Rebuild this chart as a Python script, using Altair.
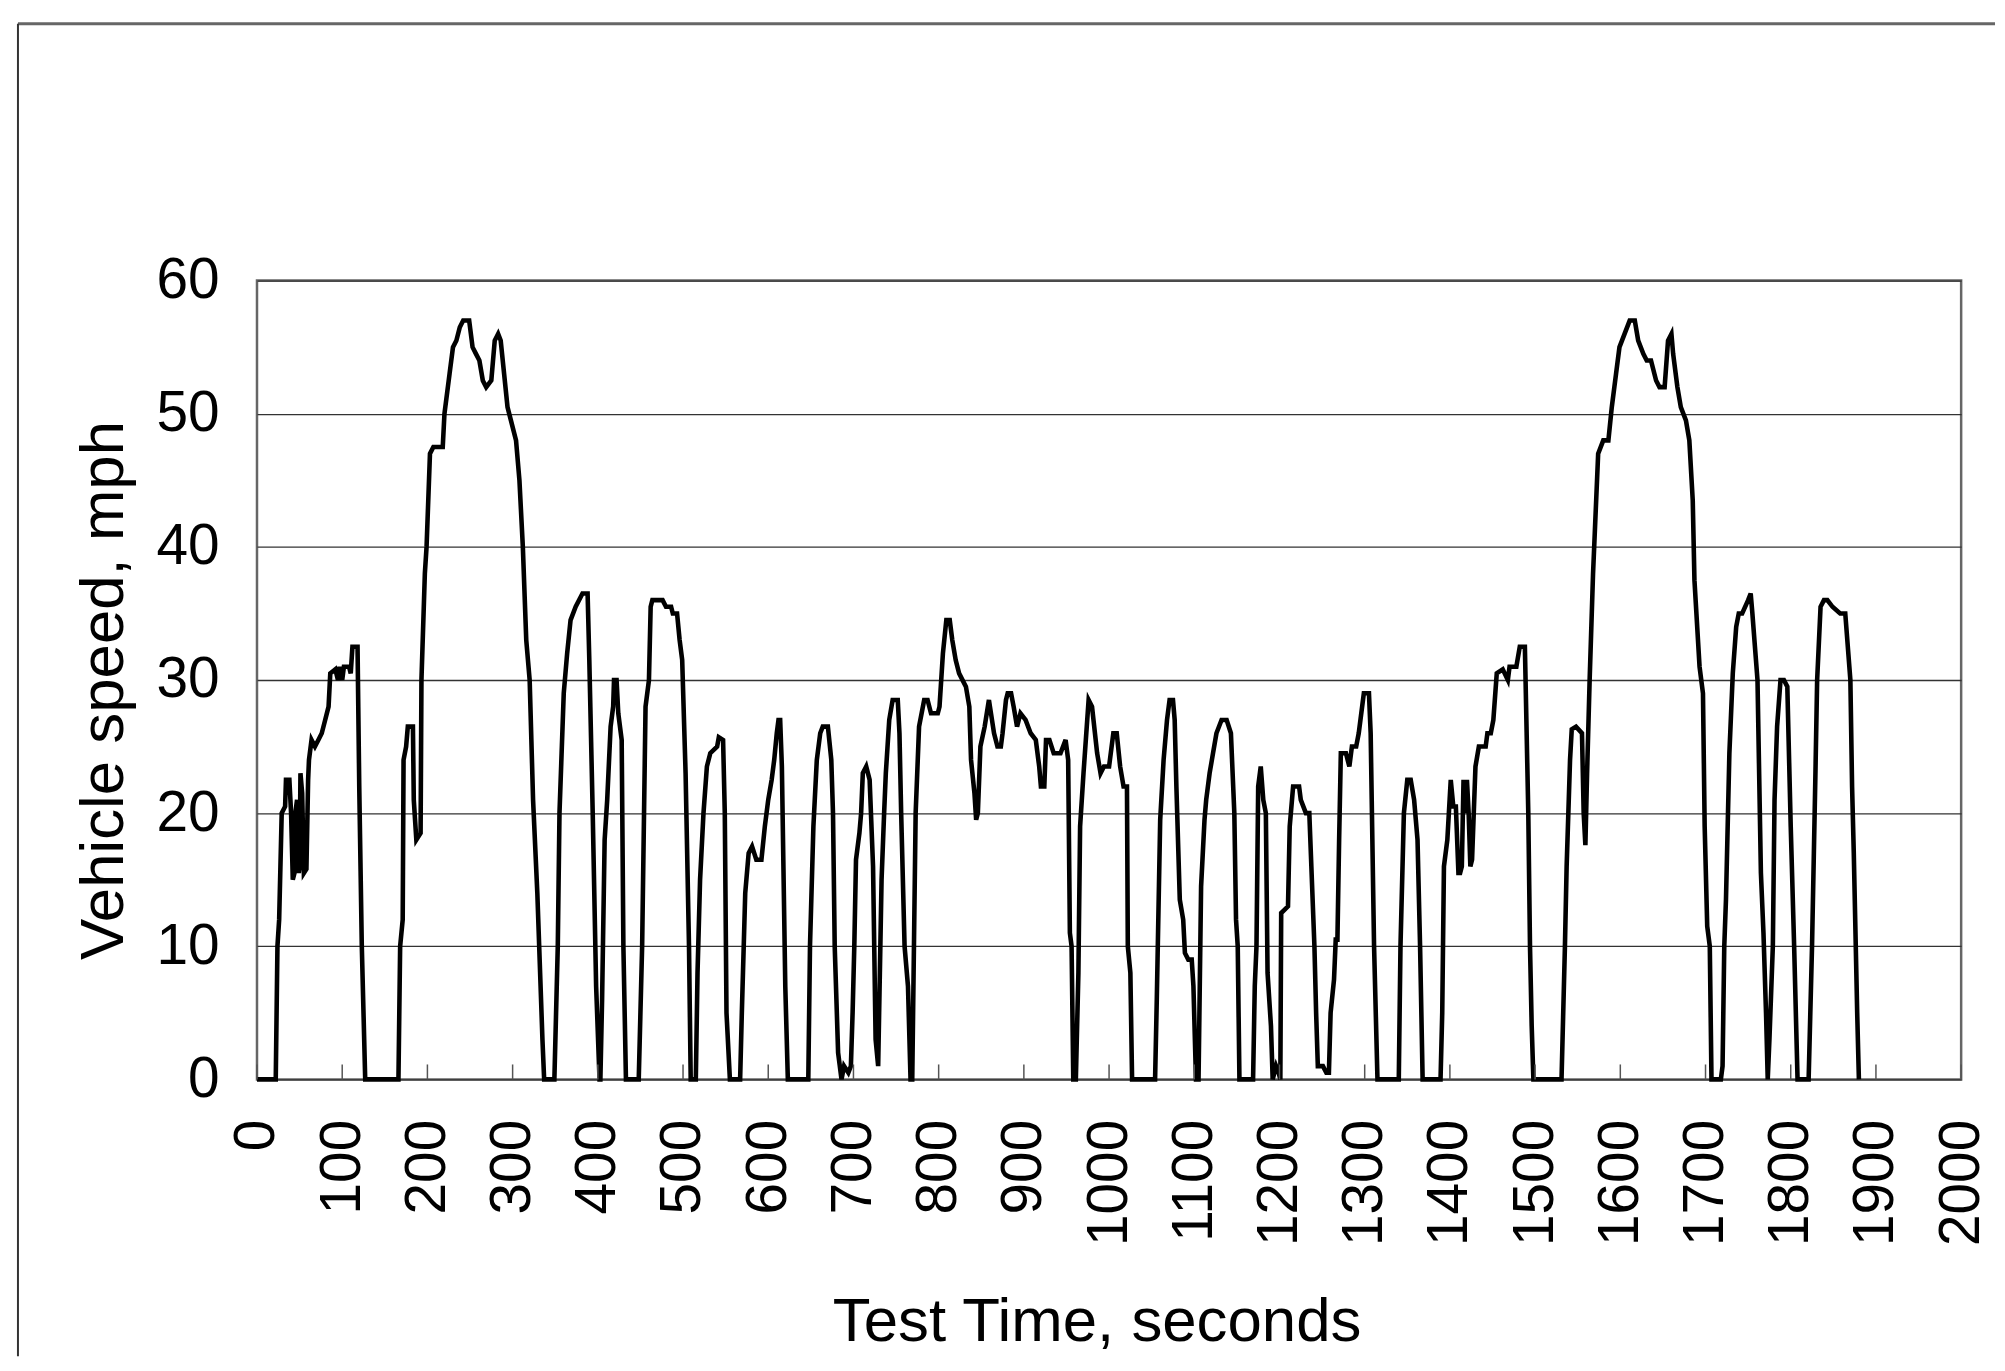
import altair as alt
import pandas as pd

# Breakpoints of the speed trace (seconds, mph)
time_s = [
    0, 22, 24, 26, 29, 33, 34, 38, 40, 42, 44, 45, 47, 49, 50, 51, 53, 55, 58, 60,
    61, 64, 68, 72, 76, 80, 84, 86, 92, 95, 97, 100, 102, 108, 110, 112, 118, 120, 123, 127,
    166, 168, 171, 172, 175, 177, 183, 184, 187, 192, 193, 197, 199, 203, 207, 218, 220, 226, 230, 234,
    238, 242, 249, 253, 257, 261, 265, 269, 275, 279, 283, 286, 290, 294, 298, 304, 308, 312, 316, 320,
    324, 329, 335, 337,
    349, 353, 355, 360, 364, 368, 374, 382, 388, 390, 394, 398, 402,
    403, 405, 408, 411, 415, 418, 419, 422, 424, 428, 430, 433,
    448, 452, 456, 460, 462, 464, 476, 480, 486, 488, 493, 496, 499, 503, 507, 509,
    515, 517, 520, 524, 528, 532, 540, 542, 547, 549, 551, 555,
    567, 569, 573, 577, 581, 586, 592, 596, 600, 604, 607, 610, 612, 614, 616, 620, 623,
    647, 649, 653, 657, 661, 664, 670, 674, 676, 678, 682, 686, 689, 694, 697,
    699, 701, 703, 707, 709, 711, 715, 719, 723, 726, 729, 731, 733, 736, 738, 742, 746, 752, 754, 756,
    760, 764, 767,
    769, 771, 773, 777, 783, 787, 791, 799, 801, 805, 809, 813, 816, 820, 824, 832, 836, 838, 842, 844,
    846, 849, 854, 859, 865, 869, 873, 875, 879, 881, 885, 888, 892, 896, 902, 908, 914, 918, 920, 924,
    926, 930, 935, 943, 949, 952, 954, 956, 958,
    961, 964, 966, 970, 976, 980, 986, 990, 994, 1000, 1005, 1009, 1013, 1017, 1021, 1022, 1025, 1027,
    1054, 1056, 1060, 1064, 1068, 1071, 1075, 1077, 1079, 1083, 1087, 1089, 1093, 1097, 1099, 1102,
    1105, 1108, 1112, 1114, 1118, 1122, 1126, 1132, 1138, 1143, 1147, 1149, 1151, 1153,
    1169, 1171, 1173, 1175, 1178, 1181, 1184, 1186, 1190, 1192, 1196, 1199, 1201,
    1202, 1210, 1212, 1216, 1223, 1225, 1231, 1235, 1241, 1243, 1245, 1251, 1255, 1258, 1260, 1264,
    1266, 1268, 1270, 1272, 1278, 1282, 1285, 1290, 1293, 1299, 1305, 1307, 1311, 1315,
    1340, 1342, 1346, 1350, 1354, 1358, 1362, 1365, 1368,
    1389, 1391, 1393, 1397, 1401, 1404, 1407, 1410, 1412, 1414, 1416, 1418, 1420, 1422, 1424, 1426,
    1430, 1434, 1442, 1444, 1448, 1451, 1455, 1462, 1468, 1470, 1478, 1482, 1488, 1492, 1494, 1496, 1498,
    1531, 1535, 1537, 1541, 1543, 1548, 1555, 1557, 1559, 1561, 1564, 1568, 1570, 1574, 1580, 1586,
    1590, 1595, 1599, 1605, 1611, 1617, 1621, 1627, 1631, 1636, 1642, 1646, 1652, 1656, 1660, 1662,
    1667, 1671, 1677, 1681, 1685, 1687, 1693, 1697, 1699, 1702, 1705, 1707,
    1718, 1720, 1722, 1724, 1728, 1732, 1736, 1739, 1743, 1750, 1753, 1755, 1761, 1765, 1768, 1771,
    1773, 1775, 1779, 1781, 1784, 1788, 1792, 1796, 1800, 1804, 1806, 1808,
    1821, 1825, 1829, 1831, 1835, 1839, 1843, 1849, 1858, 1864, 1870, 1872, 1874, 1878, 1880,
]

speed_mph = [
    0, 0, 10, 12, 20, 20.5, 22.5, 22.5, 20, 15, 15.5, 20, 21, 15.5, 16, 23, 21.5, 15.5, 15.8, 22.5,
    24, 25.5, 25, 25.5, 26, 27, 28, 30.5, 30.8, 30, 31, 30, 31, 31, 30.5, 32.5, 32.5, 22, 10, 0,
    0, 10, 12, 24, 25, 26.5, 26.5, 21, 18, 18.5, 30, 38, 40, 47, 47.5, 47.5, 50, 53, 55, 55.5,
    56.5, 57, 57, 55, 54.5, 54, 52.5, 52, 52.5, 55.5, 56, 55.5, 53, 50.5, 49.5, 48, 45, 40, 33, 30,
    21, 14, 3, 0,
    0, 10, 20, 29, 32, 34.5, 35.5, 36.5, 36.5, 31.5, 20, 7, 0,
    0, 6, 18, 21, 26.5, 28, 30, 30, 27.5, 25.5, 10, 0,
    0, 10, 28, 30, 35.5, 36, 36, 35.5, 35.5, 35, 35, 33, 31.5, 23, 10, 0,
    0, 8, 15, 20, 23.5, 24.5, 25, 25.7, 25.5, 20, 5, 0,
    0, 5, 14, 17, 17.5, 16.5, 16.5, 19, 21, 22.5, 24, 26, 27, 27, 23.5, 7, 0,
    0, 10, 19, 24, 26, 26.5, 26.5, 24, 20, 10, 2, 0, 1, 0.5, 1,
    5, 10, 16.5, 18.5, 20, 23, 23.5, 22.5, 16, 3, 1, 8, 15, 20, 23, 27, 28.5, 28.5, 26, 20,
    10, 7, 0,
    0, 10, 20, 26.5, 28.5, 28.5, 27.5, 27.5, 28, 32, 34.5, 34.5, 33, 31.5, 30.5, 29.5, 28, 24, 21.5, 19.5,
    20, 25, 26.5, 28.5, 26, 25, 25, 26, 28.5, 29, 29, 28, 26.5, 27.5, 27, 26, 25.5, 23.5, 22, 22,
    25.5, 25.5, 24.5, 24.5, 25.5, 24, 11, 10, 0,
    0, 8, 19, 23, 28.5, 28, 24.5, 23, 23.5, 23.5, 26, 26, 23.5, 22, 22, 10, 8, 0,
    0, 6, 19.5, 24, 27, 28.5, 28.5, 27, 22, 13.5, 12, 9.5, 9, 9, 7, 0,
    0, 14.5, 19.5, 21, 23, 24.5, 26, 27, 27, 26, 20, 12, 10, 0,
    0, 7, 10, 22, 23.5, 21, 20, 8, 4, 0, 1, 0.5, 0,
    12.5, 13, 19, 22, 22, 21, 20, 20, 10, 5, 1, 1, 0.5, 0.5, 5, 7.5,
    10.5, 10.5, 18, 24.5, 24.5, 23.5, 25, 25, 26, 29, 29, 26, 10, 0,
    0, 10, 20, 22.5, 22.5, 21, 18, 10, 0,
    0, 5, 16, 18, 22.5, 20.5, 20.5, 15.5, 15.5, 16, 22.5, 20, 22.5, 20, 16, 16.5,
    23.5, 25, 25, 26, 26, 27, 30.5, 30.8, 30, 31, 31, 32.5, 32.5, 20, 10, 4, 0,
    0, 10, 16, 24, 26.3, 26.5, 26, 20, 17.6, 23, 30, 38, 41, 47, 48, 48,
    50.5, 53, 55, 56, 57, 57, 55.5, 54.5, 54, 54, 52.5, 52, 52, 55.5, 56, 54.5,
    52, 50.5, 49.5, 48, 43.5, 37.5, 31, 29, 19, 11.5, 10, 0,
    0, 1, 10, 13.5, 24.5, 30.5, 34, 35, 35, 36, 36.5, 35, 30, 15.5, 11, 5,
    0, 3, 10, 21, 26.5, 30, 30, 29.5, 19, 10, 5, 0,
    0, 10, 23, 30, 35.5, 36, 36, 35.5, 35, 35, 30, 22, 17, 5, 0,
]

x_tick_values = [0, 100, 200, 300, 400, 500, 600, 700, 800, 900, 1000,
                 1100, 1200, 1300, 1400, 1500, 1600, 1700, 1800, 1900, 2000]
y_tick_values = [0, 10, 20, 30, 40, 50, 60]

df = pd.DataFrame({"t": time_s, "v": speed_mph})
ticks_df = pd.DataFrame({"t": x_tick_values})
one = pd.DataFrame({"a": [0]})

W, H = 1711, 802
FONT = "Liberation Sans"

line = alt.Chart(df).mark_line(color="black", strokeWidth=4.6, strokeJoin="miter").encode(
    x=alt.X(
        "t:Q",
        scale=alt.Scale(domain=[0, 2000], nice=False),
        axis=alt.Axis(
            values=x_tick_values, format="d", labelAngle=270, labelFontSize=57, labelPadding=40,
            ticks=False, domain=False, grid=False, labelFlush=False, labelOverlap=False,
            title="Test Time, seconds", titleFontSize=62, titleFontWeight="normal",
            titleX=843, titleY=262, titleBaseline="alphabetic", titleAlign="center",
        ),
    ),
    y=alt.Y(
        "v:Q",
        scale=alt.Scale(domain=[0, 60], nice=False),
        axis=alt.Axis(
            values=y_tick_values, format="d", grid=True, gridColor="#333333", gridWidth=1.3,
            ticks=False, domain=False, labelFontSize=57, labelPadding=38,
            labelFlush=False, labelOverlap=False,
            title="Vehicle speed, mph", titleFontSize=62, titleFontWeight="normal",
            titleAngle=270, titleX=-135, titleY=411, titleBaseline="alphabetic",
            titleAlign="center",
        ),
    ),
)

ticks = alt.Chart(ticks_df).mark_rule(color="#555555", strokeWidth=1.5).encode(
    x="t:Q", y=alt.value(H), y2=alt.value(H - 15)
)

frame_top = alt.Chart(one).mark_rule(color="#666666", strokeWidth=3).encode(
    x=alt.value(-240), x2=alt.value(1745), y=alt.value(-258)
)
frame_left = alt.Chart(one).mark_rule(color="#333333", strokeWidth=2).encode(
    x=alt.value(-240), y=alt.value(-258), y2=alt.value(1080)
)

chart = alt.layer(frame_top, frame_left, line, ticks).properties(
    width=W, height=H,
    autosize=alt.AutoSizeParams(type="none"),
    padding={"left": 250, "top": 271, "right": 36, "bottom": 277},
).configure_view(
    stroke="#666666", strokeWidth=2.5
).configure_axis(
    labelFont=FONT, titleFont=FONT, labelColor="black", titleColor="black"
)

chart.save("out.html", embed_options={"renderer": "svg", "actions": False})
